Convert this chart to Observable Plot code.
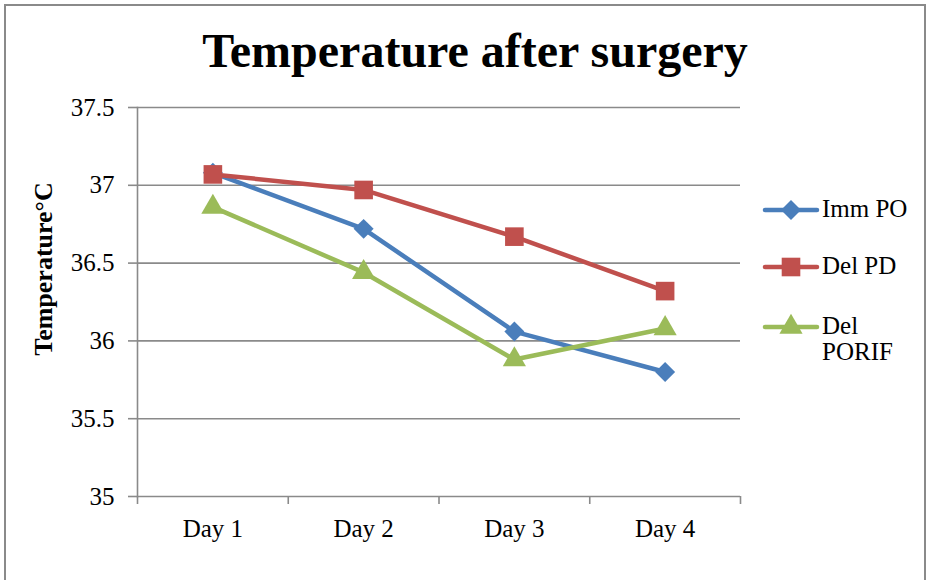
<!DOCTYPE html>
<html>
<head>
<meta charset="utf-8">
<script src="https://cdn.jsdelivr.net/npm/d3@7"></script>
<script src="https://cdn.jsdelivr.net/npm/@observablehq/plot@0.6"></script>
<style>
  body { margin: 0; background: #fff; font-family: 'Liberation Serif', 'Times New Roman', serif; }
  #wrap { position: relative; width: 931px; height: 580px; overflow: hidden; background: #fff; }
  #border { position: absolute; left: 4px; top: 4px; width: 922px; height: 640px; border: 2px solid #8a8a8a; box-sizing: border-box; }
  #chart { position: absolute; left: 0; top: 0; }
  #chart svg text { font-family: 'Liberation Serif', 'Times New Roman', serif; }
  #title { position: absolute; left: 0; width: 950px; top: 23px; text-align: center; font-family: 'Liberation Serif', serif; font-weight: bold; font-size: 48px; line-height: 56px; color: #000; }
  #ylabel { position: absolute; left: 44px; top: 269px; transform: translate(-50%, -50%) rotate(-90deg); font-family: 'Liberation Serif', serif; font-weight: bold; font-size: 26px; white-space: nowrap; color: #000; }
  #legend { position: absolute; left: 762px; top: 0; width: 169px; height: 580px; }
  .item { position: absolute; left: 0; width: 169px; display: flex; align-items: flex-start; }
  .item svg { flex: none; }
  .item span { font-family: 'Liberation Serif', serif; font-size: 25px; line-height: 26px; width: 100px; color: #000; margin-left: 2px; }
</style>
</head>
<body>
<div id="wrap">
  <div id="border"></div>
  <div id="chart"></div>
  <div id="title">Temperature after surgery</div>
  <div id="ylabel">Temperature°C</div>
  <div id="legend"></div>
</div>
<script>
const days = ["Day 1", "Day 2", "Day 3", "Day 4"];
const seriesNames = ["Imm PO", "Del PD", "Del PORIF"];
const immPO = [37.08, 36.72, 36.06, 35.80];
const delPD = [37.07, 36.97, 36.67, 36.32];
const delPORIF = [36.86, 36.44, 35.88, 36.08];
const yTicks = [35, 35.5, 36, 36.5, 37, 37.5];
const colors = ["#4a7ebb", "#c0504d", "#9bbb59"];
const symbols = ["diamond2", "square", "triangle"];
const radii = [9, 10.5, 8.6];

const allSeries = [immPO, delPD, delPORIF];
const rows = [];
allSeries.forEach((vals, s) => vals.forEach((v, i) => rows.push({series: seriesNames[s], idx: i + 1, day: days[i], value: v})));

const gridColor = "#8a8a8a";
const serif = "'Liberation Serif', 'Times New Roman', serif";

const marks = [
  Plot.ruleY(yTicks, {stroke: gridColor, strokeWidth: 1.6}),
  Plot.frame({anchor: "left", stroke: gridColor, strokeWidth: 1.6}),
  Plot.axisY({ticks: yTicks, tickSize: 9, tickPadding: 14, stroke: gridColor, strokeWidth: 1.6, fill: "#000", fontSize: 25, fontFamily: serif, tickFormat: d => String(d), label: null}),
  Plot.axisX({ticks: [0.5, 1.5, 2.5, 3.5, 4.5], tickSize: 8, stroke: gridColor, strokeWidth: 1.6, tickFormat: () => "", label: null}),
  Plot.axisX({ticks: [1, 2, 3, 4], tickSize: 0, tickPadding: 23, fill: "#000", fontSize: 25, fontFamily: serif, tickFormat: i => days[i - 1], label: null})
];
seriesNames.forEach((name, s) => {
  const data = rows.filter(r => r.series === name);
  marks.push(Plot.line(data, {x: "idx", y: "value", stroke: colors[s], strokeWidth: 4.5}));
  marks.push(Plot.dot(data, {x: "idx", y: "value", symbol: () => symbols[s], fill: colors[s], stroke: "none", r: radii[s]}));
});

const chart = Plot.plot({
  width: 931,
  height: 580,
  marginLeft: 137,
  marginRight: 191,
  marginTop: 107,
  marginBottom: 84,
  style: {fontFamily: serif, background: "transparent", color: "#000"},
  x: {type: "linear", domain: [0.5, 4.5]},
  y: {domain: [35, 37.5]},
  symbol: {type: "identity"},
  marks
});
document.getElementById("chart").appendChild(chart);

// legend
const legendTops = [196, 253, 313];
const legend = document.getElementById("legend");
seriesNames.forEach((name, s) => {
  const item = document.createElement("div");
  item.className = "item";
  item.style.top = legendTops[s] + "px";
  const size = Math.PI * radii[s] * radii[s];
  const path = d3.symbol(s === 0 ? d3.symbolDiamond2 : s === 1 ? d3.symbolSquare : d3.symbolTriangle, size)();
  item.innerHTML = `<svg width="58" height="28" viewBox="0 0 58 28"><line x1="3" y1="14" x2="55" y2="14" stroke="${colors[s]}" stroke-width="4.5" stroke-linecap="round"/><path d="${path}" transform="translate(29,14)" fill="${colors[s]}"/></svg><span>${name}</span>`;
  legend.appendChild(item);
});
</script>
</body>
</html>
